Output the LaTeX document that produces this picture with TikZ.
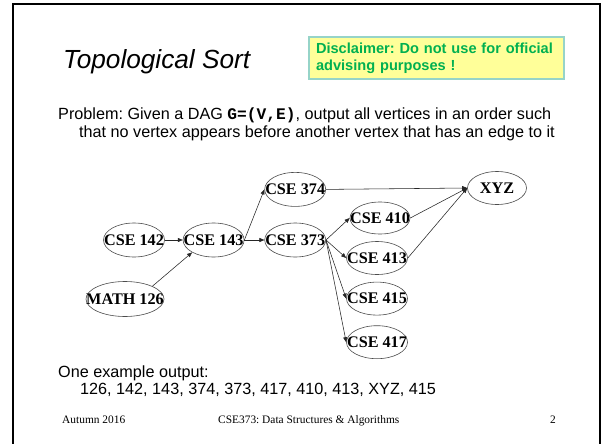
\documentclass[tikz,border=0pt]{standalone}
\usepackage{fontspec}
\setmainfont{Liberation Serif}
\setsansfont{Liberation Sans}
\setmonofont{Liberation Mono}
\usepackage{xcolor}
\usetikzlibrary{positioning,arrows.meta,shapes.geometric}
\definecolor{notegreen}{RGB}{0,176,80}
\definecolor{noteyellow}{RGB}{255,255,153}
\definecolor{noteedge}{RGB}{150,212,200}
\newcommand{\vname}[1]{\makebox[0pt]{#1}}
\frenchspacing

\begin{document}
\begin{tikzpicture}[
    x=1pt, y=-1pt,
    vertex/.style={ellipse, draw=black!70, line width=0.6pt, inner sep=0pt, minimum width=61pt, minimum height=34pt, font=\fontsize{16.2}{18}\selectfont\bfseries},
    arrow/.style={-{Triangle[length=5pt,width=4pt]}, line width=0.55pt, draw=black!85},
    body/.style={anchor=base west, inner sep=0pt, font=\sffamily\fontsize{16.2}{19}\selectfont},
    foot/.style={anchor=base west, inner sep=0pt, font=\fontsize{11.4}{13}\selectfont},
    notebox/.style={rectangle, draw=noteedge, line width=1.4pt, fill=noteyellow, minimum width=255pt, minimum height=42pt, text width=241pt, inner xsep=7pt, align=left, text=notegreen, font=\sffamily\bfseries\fontsize{14.6}{17}\selectfont}
]
\useasboundingbox (0,0) rectangle (602,444);
\fill[white] (0,0) rectangle (602,444);
\draw[line width=2pt] (13,450) -- (13,4) -- (600,4) -- (600,450);

% heading
\node[anchor=base west, inner sep=0pt, font=\sffamily\itshape\fontsize{26.2}{30}\selectfont] (title) at (63,69) {Topological Sort};
\node[notebox] (note) at (436.5,58) {Disclaimer: Do not use for official\\advising purposes !};

\node[body] (prob1) at (58,119) {Problem: Given a DAG {\ttfamily\bfseries G=(V,E)}, output all vertices in an order such};
\node[body] (prob2) at (79,137) {that no vertex appears before another vertex that has an edge to it};

% the graph
\node[vertex] (c142) at (134,240) {\vname{CSE 142}};
\node[vertex, right=18pt of c142] (c143) {\vname{CSE 143}};
\node[vertex, right=20pt of c143] (c373) {\vname{CSE 373}};
\node[vertex, above=16pt of c373] (c374) {\vname{CSE 374}};
\node[vertex, minimum width=78pt, minimum height=35pt] (m126) at (125,299) {\vname{MATH 126}};
\node[vertex, minimum width=60pt, minimum height=32pt] (c410) at (380,218) {\vname{CSE 410}};
\node[vertex, minimum height=33pt] (c413) at (377,258) {\vname{CSE 413}};
\node[vertex, minimum height=33pt, below=7pt of c413] (c415) {\vname{CSE 415}};
\node[vertex, minimum height=33pt, below=10pt of c415] (c417) {\vname{CSE 417}};
\node[vertex, minimum width=59pt, minimum height=33pt] (xyz) at (497,188) {\vname{XYZ}};

\draw[arrow] (c142.east) -- (c143.west);
\draw[arrow] (m126.25) -- (c143.210);
\draw[arrow] (c143.east) -- (c374.west);
\draw[arrow] (c143.east) -- (c373.west);
\draw[arrow] (c374.east) -- (xyz.west);
\draw[arrow] (c373.east) -- (c410.west);
\draw[arrow] (c373.east) -- (c413.west);
\draw[arrow] (c373.east) -- (c415.west);
\draw[arrow] (c373.east) -- (c417.west);
\draw[arrow] (c410.east) -- (xyz.west);
\draw[arrow] (c413.east) -- (xyz.west);

% example and footer
\node[body] (out1) at (58,377) {One example output:};
\node[body] (out2) at (80,394) {126, 142, 143, 374, 373, 417, 410, 413, XYZ, 415};

\node[foot] (term) at (62,423) {Autumn 2016};
\node[foot] (course) at (218,423) {CSE373: Data Structures \& Algorithms};
\node[foot, anchor=base east] (page) at (556,423) {2};
\end{tikzpicture}
\end{document}
